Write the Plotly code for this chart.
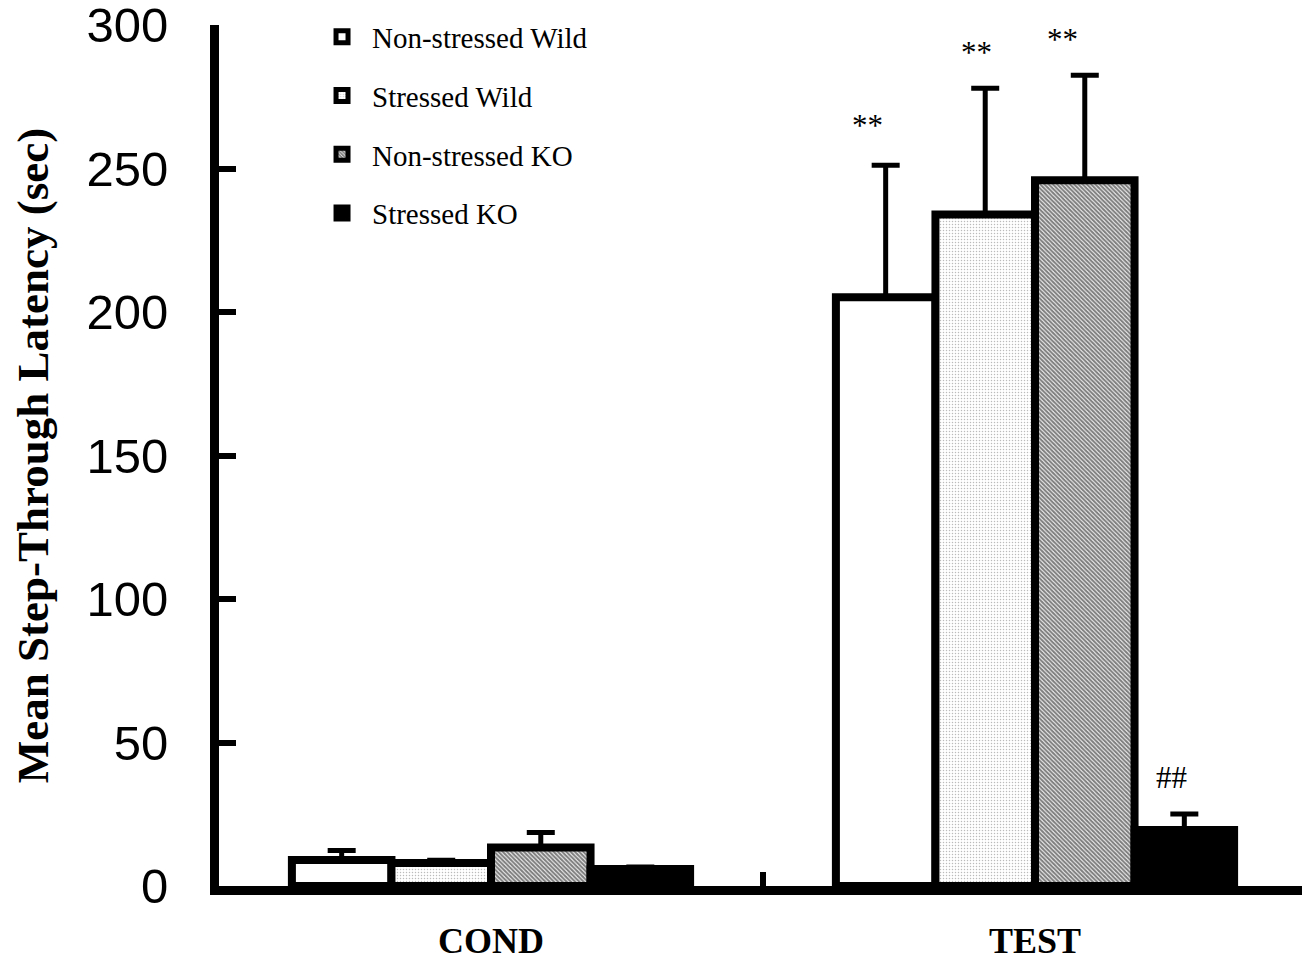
import plotly.graph_objects as go

phases = ["COND", "TEST"]
groups = ["Non-stressed Wild", "Stressed Wild", "Non-stressed KO", "Stressed KO"]
means = {
    "Non-stressed Wild": [9.1, 205.1],
    "Stressed Wild": [8.0, 234.0],
    "Non-stressed KO": [13.4, 245.9],
    "Stressed KO": [5.9, 19.5],
}
sems = {
    "Non-stressed Wild": [3.3, 46.0],
    "Stressed Wild": [1.0, 44.0],
    "Non-stressed KO": [5.2, 36.6],
    "Stressed KO": [0.7, 5.6],
}
sig_labels = ["**", "**", "**", "##"]
y_ticks = [0, 50, 100, 150, 200, 250, 300]

styles = {
    "Non-stressed Wild": dict(color="white", pattern=dict(shape="")),
    "Stressed Wild": dict(color="white", pattern=dict(shape=".", fgcolor="#777777", bgcolor="white", size=3, solidity=0.2)),
    "Non-stressed KO": dict(color="white", pattern=dict(shape="\\", fgcolor="black", bgcolor="white", size=3, solidity=0.7)),
    "Stressed KO": dict(color="black", pattern=dict(shape="")),
}

fig = go.Figure()
for g in groups:
    st = styles[g]
    fig.add_trace(go.Bar(
        name=g, x=phases, y=means[g],
        legendgroup=g,
        marker=dict(color=st["color"], pattern=st["pattern"], line=dict(color="black", width=8)),
        error_y=dict(type="data", array=sems[g], arrayminus=[0, 0], symmetric=False,
                     color="black", thickness=5, width=14),
    ))

# significance marks above TEST bars
bar_px = 99.5
offsets = [-1.5, -0.5, 0.5, 1.5]
text_nudge = [-18, -9, -22, -13]
for i, g in enumerate(groups):
    top = means[g][1] + sems[g][1]
    fig.add_annotation(x="TEST", y=top, xref="x", yref="y", text=sig_labels[i],
                       showarrow=False, xshift=offsets[i] * bar_px + text_nudge[i], yshift=[40, 36, 36, 36][i],
                       font=dict(family="Liberation Serif", size=31, color="black"))

fig.update_layout(
    width=1302, height=950,
    margin=dict(l=211, r=3, t=17, b=72),
    paper_bgcolor="white", plot_bgcolor="white",
    barmode="group", bargap=0.268, bargroupgap=0,
    showlegend=True,
    legend=dict(x=0.0855, y=1.0157, xanchor="left", yanchor="top",
                font=dict(family="Liberation Serif", size=29, color="black"),
                bgcolor="rgba(0,0,0,0)", tracegroupgap=18, traceorder="grouped",
                itemwidth=50),
    xaxis=dict(type="category", showline=True, linecolor="black", linewidth=9,
               ticks="inside", ticklen=14, tickwidth=6, tickcolor="black",
               tickson="boundaries", showgrid=False, zeroline=False, automargin=False,
               tickfont=dict(family="Liberation Serif", size=36, color="black", weight="bold"),
               ticklabelstandoff=15, ticklabeloverflow="allow"),
    yaxis=dict(range=[0, 300], tickvals=y_ticks, showline=True, linecolor="black", linewidth=9,
               ticks="inside", ticklen=17, tickwidth=6, tickcolor="black",
               showgrid=False, zeroline=False, automargin=False,
               tickfont=dict(family="Liberation Sans", size=49, color="black"),
               ticklabelstandoff=32, ticklabeloverflow="allow",
               title=dict(text="Mean Step-Through Latency (sec)", standoff=48,
                          font=dict(family="Liberation Serif", size=45, color="black", weight="bold"))),
)

fig.write_html("out.html")
